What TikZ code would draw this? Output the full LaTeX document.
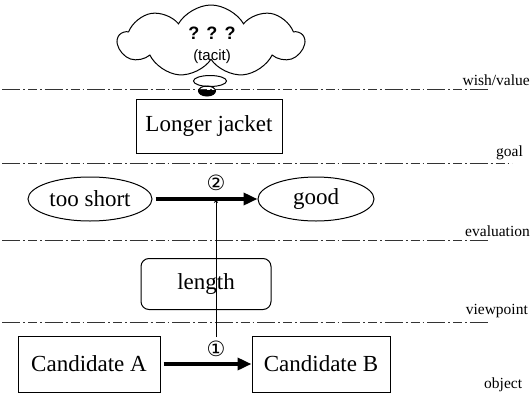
\documentclass[tikz,border=0pt]{standalone}
\usepackage{fontspec}
\setmainfont{Liberation Serif}
\newfontfamily\headfont{Liberation Sans}
\newfontfamily\markfont{DejaVu Sans}
\usetikzlibrary{shapes.geometric,shapes.symbols,arrows.meta}

\tikzset{
  layerline/.style={line width=0.7pt, black!80,
    dash pattern=on 18pt off 3pt on 2pt off 3pt on 9pt off 3pt on 1.5pt off 3pt},
  layerlabel/.style={font=\fontsize{15.5}{17}\selectfont, inner sep=0pt},
  boxnode/.style={draw, line width=1pt, font=\fontsize{23}{25}\selectfont, inner sep=0pt},
  ovalnode/.style={ellipse, draw, line width=1pt, font=\fontsize{23}{25}\selectfont, inner sep=0pt},
  bigarrow/.style={line width=3.6pt, -{Triangle[length=14pt,width=12pt]}, shorten <=3pt},
  stepmark/.style={font=\markfont\fontsize{21}{23}\selectfont, inner sep=0pt}
}

\begin{document}
\begin{tikzpicture}[x=1pt, y=-1pt]
\useasboundingbox (0,0) rectangle (531,397);

% layer separators
\draw[layerline] (2,89) -- (490,89);
\draw[layerline] (2,163) -- (512,163);
\draw[layerline] (2,240) -- (490,240);
\draw[layerline] (2,322) -- (490,322);

% layer names
\node[layerlabel, anchor=east] (lwish) at (530,80) {wish/value};
\node[layerlabel, anchor=west] (lgoal) at (496,153) {goal};
\node[layerlabel, anchor=east] (leval) at (530,231) {evaluation};
\node[layerlabel, anchor=east] (lview) at (528,311) {viewpoint};
\node[layerlabel, anchor=west] (lobj) at (484,385) {object};

% tacit wish as a thought cloud
\node[cloud, draw, line width=1pt, fill=white, cloud puffs=9, cloud puff arc=120,
      aspect=2.6, minimum width=186pt, minimum height=72pt, inner sep=0pt]
      (wish) at (211,41) {};
\node[font=\headfont\bfseries\fontsize{18}{20}\selectfont, inner sep=0pt]
      (qq) at (212,33) {?\hspace{0.4em}?\hspace{0.4em}?};
\node[font=\headfont\fontsize{15}{17}\selectfont, inner sep=0pt]
      (tacit) at (212,57) {(tacit)};
\node[ellipse, draw, line width=1pt, fill=white, minimum width=33pt,
      minimum height=11pt, inner sep=0pt] (bub) at (210,81) {};
\begin{scope}
  \clip (190,90) rectangle (230,100);
  \fill (207,91) ellipse (8.5pt and 5pt);
\end{scope}
\node[ellipse, draw, line width=1pt, minimum width=17pt, minimum height=10pt,
      inner sep=0pt] (dot) at (207,91) {};

% goal
\node[boxnode, minimum width=146pt, minimum height=54pt] (goal) at (209,126) {Longer jacket};

% evaluation
\node[ovalnode, minimum width=124pt, minimum height=44pt] (short) at (90,199) {too short};
\node[ovalnode, minimum width=116pt, minimum height=44pt] (good) at (316,199) {good};
\draw[bigarrow] (short) -- coordinate[pos=0.52] (mid2) (good);
\node[stepmark] (two) at (216,183) {②};

% viewpoint
\node[boxnode, rounded corners=8pt, minimum width=130pt, minimum height=51pt] (len) at (206,284) {length};

% objects
\node[boxnode, minimum width=142pt, minimum height=56pt] (candA) at (89,364) {Candidate A};
\node[boxnode, minimum width=138pt, minimum height=56pt] (candB) at (321,364) {Candidate B};
\draw[bigarrow] (candA) -- (candB);
\node[stepmark] (one) at (216,349) {①};

% link from the object comparison up to the evaluation
\coordinate (foot) at (216,337);
\draw[line width=0.7pt, -{Stealth[length=4pt,width=4pt]}] (foot) -- (foot |- mid2);
\end{tikzpicture}
\end{document}
